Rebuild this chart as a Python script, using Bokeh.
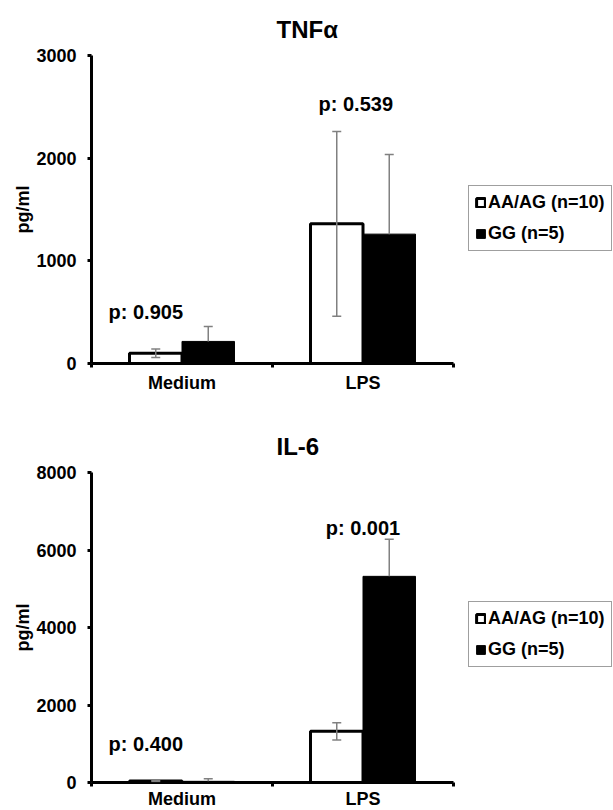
from bokeh.plotting import figure
from bokeh.models import (Range1d, FixedTicker, Legend, LegendItem, Whisker,
                          ColumnDataSource, TeeHead)
from bokeh.layouts import column
from bokeh.core.properties import value
from bokeh.embed import file_html
from bokeh.resources import INLINE

FONT = "Liberation Sans"

categories = ["Medium", "LPS"]
groups = ["AA/AG (n=10)", "GG (n=5)"]

# TNF-alpha (pg/ml)
tnf_aa = [100, 1360]
tnf_aa_err = [42, 900]
tnf_gg = [215, 1260]
tnf_gg_err = [145, 775]
tnf_p_text = ["p: 0.905", "p: 0.539"]
tnf_p_x = [0.30, 1.46]
tnf_p_y = [506, 2532]
tnf_ticks = [0, 1000, 2000, 3000]

# IL-6 (pg/ml)
il6_aa = [40, 1320]
il6_aa_err = [15, 220]
il6_gg = [30, 5320]
il6_gg_err = [70, 960]
il6_p_text = ["p: 0.400", "p: 0.001"]
il6_p_x = [0.30, 1.50]
il6_p_y = [1006, 6580]
il6_ticks = [0, 2000, 4000, 6000, 8000]

BAR_W = 0.29
OFFS = [-0.145, 0.145]


def make_chart(title, aa, aa_err, gg, gg_err, p_text, p_x, p_y, ticks,
               top_border, frame_h, bottom_border, title_standoff,
               x_label_standoff, legend_y):
    p = figure(frame_width=362, frame_height=frame_h,
               min_border_left=91, min_border_right=152,
               min_border_top=top_border, min_border_bottom=bottom_border,
               x_range=Range1d(0, len(categories)),
               y_range=Range1d(0, ticks[-1]),
               output_backend="svg", toolbar_location=None)
    p.title.text = title
    p.title.align = "left"
    p.title.text_font = FONT
    p.title.text_font_size = "24px"
    p.title.text_font_style = "bold"
    p.title.text_color = "black"
    p.title.offset = 185
    p.title.standoff = title_standoff

    p.outline_line_color = None
    p.xgrid.visible = False
    p.ygrid.visible = False

    centers = [i + 0.5 for i in range(len(categories))]
    x_aa = [c + OFFS[0] for c in centers]
    x_gg = [c + OFFS[1] for c in centers]

    src_aa = ColumnDataSource(dict(x=x_aa, top=aa,
                                   up=[v + e for v, e in zip(aa, aa_err)],
                                   lo=[v - e for v, e in zip(aa, aa_err)]))
    src_gg = ColumnDataSource(dict(x=x_gg, top=gg,
                                   up=[v + e for v, e in zip(gg, gg_err)],
                                   lo=list(gg)))

    r_aa = p.vbar(x="x", top="top", width=BAR_W, source=src_aa,
                  fill_color="white", line_color="black", line_width=3)
    r_gg = p.vbar(x="x", top="top", width=BAR_W, source=src_gg,
                  fill_color="black", line_color="black", line_width=1)

    ecol = "#808080"
    w_aa = Whisker(base="x", upper="up", lower="lo", source=src_aa,
                   line_color=ecol, line_width=1.5, level="overlay",
                   upper_head=TeeHead(size=9, line_color=ecol, line_width=1.5),
                   lower_head=TeeHead(size=9, line_color=ecol, line_width=1.5))
    w_gg = Whisker(base="x", upper="up", lower="lo", source=src_gg,
                   line_color=ecol, line_width=1.5, level="overlay",
                   upper_head=TeeHead(size=9, line_color=ecol, line_width=1.5),
                   lower_head=None)
    p.add_layout(w_aa)
    p.add_layout(w_gg)

    p.text(x=p_x, y=p_y, text=p_text, text_font=value(FONT),
           text_font_style="bold", text_font_size="20px",
           text_align="center", text_baseline="middle", text_color="black")

    # y axis
    ya = p.yaxis[0]
    ya.ticker = FixedTicker(ticks=ticks)
    ya.axis_line_width = 3
    ya.major_tick_line_width = 3
    ya.major_tick_out = 4
    ya.major_tick_in = 0
    ya.minor_tick_line_color = None
    ya.major_label_text_font = FONT
    ya.major_label_text_font_style = "bold"
    ya.major_label_text_font_size = "18px"
    ya.major_label_text_color = "black"
    ya.major_label_standoff = 11
    ya.axis_label = "pg/ml"
    ya.axis_label_text_font = FONT
    ya.axis_label_text_font_style = "bold"
    ya.axis_label_text_font_size = "18px"
    ya.axis_label_text_color = "black"
    ya.axis_label_standoff = 0

    # x axis: labels at centers, ticks at boundaries
    xa = p.xaxis[0]
    xa.ticker = FixedTicker(ticks=centers,
                            minor_ticks=list(range(len(categories) + 1)))
    xa.major_label_overrides = {c: n for c, n in zip(centers, categories)}
    xa.axis_line_width = 3
    xa.major_tick_line_color = None
    xa.major_tick_out = 0
    xa.major_tick_in = 0
    xa.minor_tick_line_width = 3
    xa.minor_tick_out = 4
    xa.minor_tick_in = 0
    xa.major_label_text_font = FONT
    xa.major_label_text_font_style = "bold"
    xa.major_label_text_font_size = "18px"
    xa.major_label_text_color = "black"
    xa.major_label_standoff = x_label_standoff

    legend = Legend(items=[LegendItem(label=groups[0], renderers=[r_aa]),
                           LegendItem(label=groups[1], renderers=[r_gg])],
                    location=(15, legend_y))
    legend.label_text_font = FONT
    legend.label_text_font_style = "bold"
    legend.label_text_font_size = "18px"
    legend.label_text_color = "black"
    legend.glyph_width = 11
    legend.glyph_height = 11
    legend.label_standoff = 2
    legend.spacing = 10
    legend.padding = 6
    legend.margin = 0
    legend.border_line_color = "#404040"
    legend.border_line_width = 1.5
    p.add_layout(legend, "right")
    return p


p1 = make_chart("TNFα", tnf_aa, tnf_aa_err, tnf_gg, tnf_gg_err,
                tnf_p_text, tnf_p_x, tnf_p_y, tnf_ticks,
                top_border=55, frame_h=308, bottom_border=35,
                title_standoff=26, x_label_standoff=5, legend_y=112)
p2 = make_chart("IL-6", il6_aa, il6_aa_err, il6_gg, il6_gg_err,
                il6_p_text, il6_p_x, il6_p_y, il6_ticks,
                top_border=74, frame_h=310, bottom_border=28,
                title_standoff=26, x_label_standoff=2, legend_y=115)

layout = column(p1, p2, spacing=0)
open("out.html", "w").write(file_html(layout, INLINE))
